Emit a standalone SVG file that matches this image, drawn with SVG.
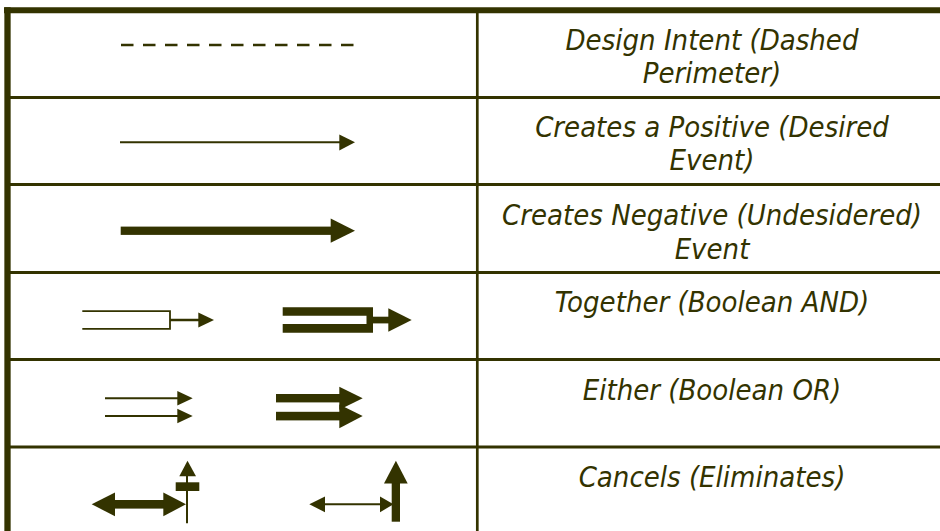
<svg xmlns="http://www.w3.org/2000/svg" width="940" height="531" viewBox="0 0 940 531">
<style>
.grid{stroke:#333300;fill:none}
.lbl{font-family:"DejaVu Sans Condensed","DejaVu Sans",sans-serif;font-stretch:condensed;font-style:italic;font-size:29px;fill:#333300;text-anchor:middle}
.ln{stroke:#333300;fill:none}
.fl{fill:#333300;stroke:none}
</style>
<rect width="940" height="531" fill="#ffffff"/>
<g id="table">
<line class="grid" x1="4" y1="10.3" x2="940" y2="10.3" stroke-width="6"/>
<line class="grid" x1="7.5" y1="7.3" x2="7.5" y2="531" stroke-width="6.3"/>
<line class="grid" x1="477.3" y1="13" x2="477.3" y2="531" stroke-width="2.7"/>
<line class="grid" x1="10" y1="97.5" x2="940" y2="97.5" stroke-width="2.8"/>
<line class="grid" x1="10" y1="184.5" x2="940" y2="184.5" stroke-width="2.8"/>
<line class="grid" x1="10" y1="272.5" x2="940" y2="272.5" stroke-width="2.8"/>
<line class="grid" x1="10" y1="359.5" x2="940" y2="359.5" stroke-width="2.8"/>
<line class="grid" x1="10" y1="447" x2="940" y2="447" stroke-width="2.8"/>
</g>
<g id="row1">
<line class="ln" x1="121" y1="45" x2="354" y2="45" stroke-width="2.5" stroke-dasharray="12.5 9.5"/>
<text class="lbl" x="712" y="50">Design Intent (Dashed</text>
<text class="lbl" x="712" y="83">Perimeter)</text>
</g>
<g id="row2">
<line class="ln" x1="120" y1="142.3" x2="340" y2="142.3" stroke-width="2"/>
<polygon class="fl" points="339.3,134.6 355,142.3 339.3,150.4"/>
<text class="lbl" x="712" y="137">Creates a Positive (Desired</text>
<text class="lbl" x="712" y="170">Event)</text>
</g>
<g id="row3">
<rect class="fl" x="120.7" y="226.6" width="211" height="8.3"/>
<polygon class="fl" points="330.7,218.4 355,230.7 330.7,242.8"/>
<text class="lbl" x="712" y="225">Creates Negative (Undesidered)</text>
<text class="lbl" x="712" y="259">Event</text>
</g>
<g id="row4">
<path class="ln" d="M82.3,311.2 H170 V328.8 H82.3" stroke-width="1.8"/>
<line class="ln" x1="170" y1="320" x2="199" y2="320" stroke-width="2.5"/>
<polygon class="fl" points="198.3,312.4 214,320 198.3,327.4"/>
<path class="fl" d="M282.7,307.3 H373 V332.7 H282.7 V324 H366.5 V315.7 H282.7 Z"/>
<rect class="fl" x="372" y="316.7" width="17" height="6.7"/>
<polygon class="fl" points="388.3,308.3 411.7,320 388.3,331.7"/>
<text class="lbl" x="712" y="312">Together (Boolean AND)</text>
</g>
<g id="row5">
<line class="ln" x1="105" y1="398.3" x2="178" y2="398.3" stroke-width="2"/>
<polygon class="fl" points="177.3,391 192.7,398.3 177.3,405.6"/>
<line class="ln" x1="105" y1="416" x2="178" y2="416" stroke-width="2"/>
<polygon class="fl" points="177.3,408.7 192.7,416 177.3,423.3"/>
<rect class="fl" x="276" y="394" width="64" height="8.4"/>
<polygon class="fl" points="339.3,386.7 362.7,398.2 339.3,409.7"/>
<rect class="fl" x="276" y="411.8" width="64" height="8.6"/>
<polygon class="fl" points="339.3,404.5 362.7,416 339.3,428.3"/>
<text class="lbl" x="712" y="400">Either (Boolean OR)</text>
</g>
<g id="row6">
<rect class="fl" x="114" y="500" width="50" height="8.6"/>
<polygon class="fl" points="115,492.4 91.7,504.3 115,516.2"/>
<polygon class="fl" points="163.3,492.4 186,504.3 163.3,516.2"/>
<line class="ln" x1="187" y1="475" x2="187" y2="523.3" stroke-width="2"/>
<polygon class="fl" points="179.3,476.2 187.5,460.7 196,476.2"/>
<rect class="fl" x="175.7" y="482.3" width="23.6" height="8.7"/>
<line class="ln" x1="324" y1="504.3" x2="381" y2="504.3" stroke-width="2"/>
<polygon class="fl" points="325,496.6 309.3,504.3 325,512.2"/>
<polygon class="fl" points="380,496.6 393.5,504.3 380,512.2"/>
<rect class="fl" x="391.7" y="482.5" width="8.3" height="39.2"/>
<polygon class="fl" points="384,483.5 395.9,460.7 407.7,483.5"/>
<text class="lbl" x="712" y="487">Cancels (Eliminates)</text>
</g>
</svg>
